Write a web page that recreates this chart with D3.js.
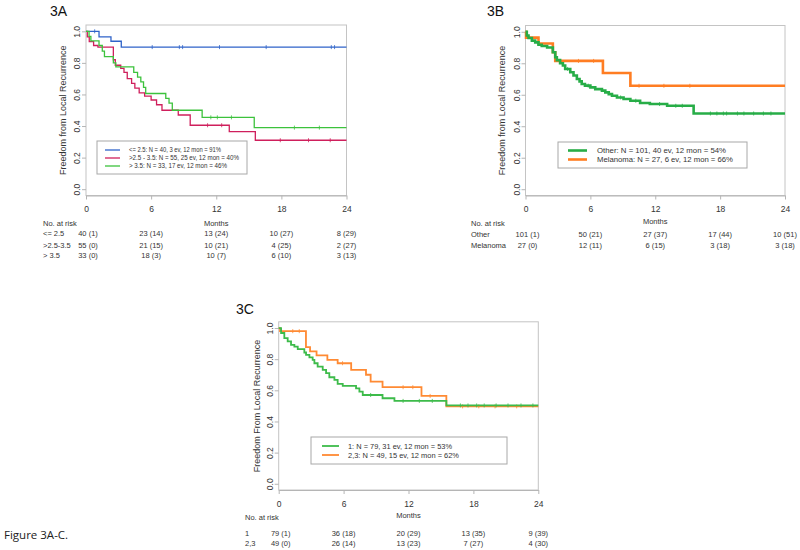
<!DOCTYPE html>
<html>
<head>
<meta charset="utf-8">
<script src="https://cdn.jsdelivr.net/npm/d3@7"></script>
<style>
  body { margin: 0; background: #fff; }
  svg { display: block; }
  text { font-family: "Liberation Sans", Arial, sans-serif; }
  .tick text { font-size: 8.5px; fill: #333; }
  .tick line, .domain { stroke: #b5b5b5; }
</style>
</head>
<body>
<script>
const months = [0, 6, 12, 18, 24]
const survTicks = [0, 0.2, 0.4, 0.6, 0.8, 1.0]

// 3A - steps are [month, survival]
const aLow = [[0, 1], [1.2, 0.965], [2.3, 0.937], [3.25, 0.9]]
const aLowCens = [0.8, 6.1, 8.6, 8.9, 12.3, 16.6, 22.6, 22.9]
const aMid = [[0, 1], [0.12, 0.965], [0.3, 0.935], [0.7, 0.91], [1.1, 0.9], [2.52, 0.82], [2.7, 0.785],
  [3.2, 0.765], [3.5, 0.74], [3.8, 0.7], [4.2, 0.67], [4.5, 0.64], [4.9, 0.61], [5.4, 0.59], [6.0, 0.565],
  [6.5, 0.535], [7.0, 0.5], [8.5, 0.47], [9.6, 0.405], [13.2, 0.365], [15.6, 0.31]]
const aMidCens = [11.2, 12.5, 17.9, 20.5, 22.5]
const aHigh = [[0, 1], [0.28, 0.968], [0.45, 0.94], [1.2, 0.91], [1.5, 0.875], [1.7, 0.84], [2.52, 0.8],
  [2.75, 0.775], [4.4, 0.74], [4.75, 0.71], [5.05, 0.68], [5.3, 0.645], [5.5, 0.606], [7.35, 0.575],
  [7.65, 0.545], [7.95, 0.5], [10.7, 0.455], [15.5, 0.39]]
const aHighCens = [11.5, 12.1, 13.4, 19.2, 21.5]
const aLegend = ['<= 2.5: N = 40, 3 ev, 12 mon = 91%', '>2.5 - 3.5: N = 55, 25 ev, 12 mon = 40%', '> 3.5: N = 33, 17 ev, 12 mon = 46%']
const aRiskLabels = ['<= 2.5', '>2.5-3.5', '> 3.5']
const aRisk = [
  ['40 (1)', '23 (14)', '13 (24)', '10 (27)', '8 (29)'],
  ['55 (0)', '21 (15)', '10 (21)', '4 (25)', '2 (27)'],
  ['33 (0)', '18 (3)', '10 (7)', '6 (10)', '3 (13)']
]

// 3B
const bOther = [[0, 1], [0.12, 0.976], [0.28, 0.961], [0.59, 0.944], [0.9, 0.933], [1.2, 0.918], [1.5, 0.91],
  [2.0, 0.9], [2.53, 0.87], [2.75, 0.838], [2.9, 0.82], [3.2, 0.8], [3.46, 0.786], [3.67, 0.764], [4.14, 0.743],
  [4.44, 0.722], [4.75, 0.7], [5.0, 0.685], [5.2, 0.668], [5.5, 0.658], [6.0, 0.647], [6.45, 0.636],
  [7.07, 0.626], [7.38, 0.615], [7.7, 0.604], [8.0, 0.594], [8.46, 0.583], [9.07, 0.573], [9.7, 0.562],
  [10.6, 0.548], [11.5, 0.541], [13.1, 0.53], [15.55, 0.481]]
const bOtherCens = [3.9, 5.8, 8.8, 10.2, 12.4, 13.9, 14.5, 17.1, 17.7, 18.3, 18.6, 19.6, 20.2, 21.1, 22.0, 22.7]
const bMel = [[0, 1], [0.05, 0.963], [1.2, 0.926], [2.53, 0.87], [2.75, 0.815], [7.16, 0.738], [9.7, 0.657]]
const bMelCens = [4.9, 6.3, 10.5, 12.8, 15.2]
const bLegend = ['Other: N = 101, 40 ev, 12 mon = 54%', 'Melanoma: N = 27, 6 ev, 12 mon = 66%']
const bRiskLabels = ['Other', 'Melanoma']
const bRisk = [
  ['101 (1)', '50 (21)', '27 (37)', '17 (44)', '10 (51)'],
  ['27 (0)', '12 (11)', '6 (15)', '3 (18)', '3 (18)']
]

// 3C
const cOne = [[0, 1], [0.22, 0.968], [0.52, 0.935], [0.83, 0.914], [1.14, 0.892], [1.45, 0.881], [1.76, 0.864],
  [2.37, 0.843], [2.53, 0.827], [2.84, 0.812], [3.14, 0.795], [3.3, 0.774], [3.6, 0.752], [4.07, 0.731],
  [4.38, 0.71], [4.68, 0.684], [5.15, 0.667], [5.45, 0.641], [5.92, 0.628], [7.15, 0.613], [7.46, 0.592],
  [7.77, 0.57], [9.6, 0.549], [10.7, 0.532], [15.5, 0.503]]
const cOneCens = [8.5, 11.5, 13.0, 14.2, 16.8, 17.5, 18.3, 19.0, 20.1, 21.2, 22.4, 23.5]
const cTwo = [[0, 1], [0.12, 0.98], [2.52, 0.877], [2.9, 0.85], [3.5, 0.825], [4.5, 0.795], [5.45, 0.774],
  [6.7, 0.731], [8.07, 0.7], [8.5, 0.656], [9.6, 0.62], [13.2, 0.564], [15.5, 0.497]]
const cTwoCens = [1.3, 1.9, 5.9, 11.5, 12.4, 14.0, 17.0, 18.5, 20.0, 22.0]
const cLegend = ['1: N = 79, 31 ev, 12 mon = 53%', '2,3: N = 49, 15 ev, 12 mon = 62%']
const cRiskLabels = ['1', '2,3']
const cRisk = [
  ['79 (1)', '36 (18)', '20 (29)', '13 (35)', '9 (39)'],
  ['49 (0)', '26 (14)', '13 (23)', '7 (27)', '4 (30)']
]

const svg = d3.select('body').append('svg')
  .attr('width', 800)
  .attr('height', 550)

const panels = [
  {
    title: '3A', titleX: 50, titleY: 16, left: 86, right: 346.5, top: 25, bottom: 195.5, ylabX: 63,
    ylab: 'Freedom from Local Recurrence', lw: 1.3,
    series: [
      { steps: aLow, cens: aLowCens, color: '#2f63c9' },
      { steps: aMid, cens: aMidCens, color: '#cf1f5c' },
      { steps: aHigh, cens: aHighCens, color: '#3cc23c' }
    ],
    legend: aLegend, legBox: [97, 141, 150, 33], legLine: [105, 120], legTextX: 129,
    legRows: [150, 158, 166], legLens: [92, 110, 98], legFont: 7,
    riskLabels: aRiskLabels, risk: aRisk, labelX: 43, headY: 225.7, monthsY: 225.7, rowsY: [236, 247.7, 258.4]
  },
  {
    title: '3B', titleX: 487, titleY: 16, left: 525.5, right: 785, top: 25.5, bottom: 195.5, ylabX: 502,
    ylab: 'Freedom from Local Recurrence', lw: 2.6,
    series: [
      { steps: bMel, cens: bMelCens, color: '#ff7d22' },
      { steps: bOther, cens: bOtherCens, color: '#27ad47' }
    ],
    legend: bLegend, legBox: [558, 142, 189, 26], legLine: [568, 587], legTextX: 597,
    legRows: [150.5, 159.5], legLens: [129, 136], legFont: 8, legColors: ['#27ad47', '#ff7d22'],
    riskLabels: bRiskLabels, risk: bRisk, labelX: 471, headY: 226, monthsY: 223.7, rowsY: [236.7, 247.7]
  },
  {
    title: '3C', titleX: 236, titleY: 314, left: 278.7, right: 538.3, top: 321.8, bottom: 490, ylabX: 257,
    ylab: 'Freedom From Local Recurrence', lw: 1.8,
    series: [
      { steps: cTwo, cens: cTwoCens, color: '#ff8a33' },
      { steps: cOne, cens: cOneCens, color: '#3dbb4a' }
    ],
    legend: cLegend, legBox: [311, 437, 196, 27], legLine: [322, 339], legTextX: 348,
    legRows: [446, 455], legLens: [104, 111], legFont: 7.5, legColors: ['#3dbb4a', '#ff8a33'],
    riskLabels: cRiskLabels, risk: cRisk, labelX: 245, headY: 520, monthsY: 518, rowsY: [535.8, 545.8]
  }
]

function survAt(steps, t) {
  let v = steps[0][1]
  steps.forEach(s => { if (s[0] <= t) v = s[1] })
  return v
}

function drawPanel(p) {
  const x = d3.scaleLinear().domain([0, 24]).range([p.left, p.right])
  const y = d3.scaleLinear().domain([-0.04, 1.04]).range([p.bottom, p.top])

  svg.append('text')
    .attr('x', p.titleX).attr('y', p.titleY)
    .attr('font-size', 14).attr('fill', '#111')
    .text(p.title)

  svg.append('rect')
    .attr('x', p.left).attr('y', p.top)
    .attr('width', p.right - p.left).attr('height', p.bottom - p.top)
    .attr('fill', 'none').attr('stroke', '#c4c4c4')

  const gx = svg.append('g')
    .attr('transform', 'translate(0,' + p.bottom + ')')
    .call(d3.axisBottom(x).tickValues(months).tickSize(4).tickSizeOuter(0))
  gx.selectAll('text').attr('y', 10.5)

  const gy = svg.append('g')
    .attr('transform', 'translate(' + p.left + ',0)')
    .call(d3.axisLeft(y).tickValues(survTicks).tickFormat(d3.format('.1f')).tickSize(4).tickSizeOuter(0))
  gy.select('.domain').remove()
  gy.selectAll('text')
    .attr('transform', 'rotate(-90)')
    .attr('x', 0).attr('y', -6).attr('dy', 0)
    .attr('text-anchor', 'middle')

  const midY = (y(0) + y(1)) / 2
  svg.append('text')
    .attr('transform', 'translate(' + p.ylabX + ',' + midY + ') rotate(-90)')
    .attr('text-anchor', 'middle').attr('dy', '0.35em')
    .attr('font-size', 9).attr('fill', '#333')
    .text(p.ylab)

  const line = d3.line()
    .x(d => x(d[0]))
    .y(d => y(d[1]))
    .curve(d3.curveStepAfter)

  p.series.forEach(s => {
    const pts = s.steps.concat([[24, s.steps[s.steps.length - 1][1]]])
    svg.append('path')
      .attr('d', line(pts))
      .attr('fill', 'none')
      .attr('stroke', s.color)
      .attr('stroke-width', p.lw)
    svg.selectAll(null)
      .data(s.cens)
      .enter()
      .append('line')
      .attr('x1', d => x(d)).attr('x2', d => x(d))
      .attr('y1', d => y(survAt(s.steps, d)) - 2)
      .attr('y2', d => y(survAt(s.steps, d)) + 2)
      .attr('stroke', s.color)
      .attr('stroke-width', 0.8)
  })

  // legend
  const lb = p.legBox
  svg.append('rect')
    .attr('x', lb[0]).attr('y', lb[1]).attr('width', lb[2]).attr('height', lb[3])
    .attr('fill', '#fff').attr('stroke', '#a8a8a8')
  const legColors = p.legColors || p.series.map(s => s.color)
  p.legend.forEach((txt, i) => {
    svg.append('line')
      .attr('x1', p.legLine[0]).attr('x2', p.legLine[1])
      .attr('y1', p.legRows[i]).attr('y2', p.legRows[i])
      .attr('stroke', legColors[i]).attr('stroke-width', p.lw)
    svg.append('text')
      .attr('x', p.legTextX).attr('y', p.legRows[i]).attr('dy', '0.35em')
      .attr('font-size', p.legFont).attr('fill', '#333')
      .attr('textLength', p.legLens[i]).attr('lengthAdjust', 'spacingAndGlyphs')
      .text(txt)
  })

  // number at risk table
  const tbl = svg.append('g').attr('font-size', 7.5).attr('fill', '#333')
  tbl.append('text').attr('x', p.labelX).attr('y', p.headY).text('No. at risk')
  tbl.append('text').attr('x', x(12)).attr('y', p.monthsY).attr('text-anchor', 'middle').text('Months')
  p.riskLabels.forEach((lab, i) => {
    tbl.append('text').attr('x', p.labelX).attr('y', p.rowsY[i]).text(lab)
    tbl.selectAll(null)
      .data(p.risk[i])
      .enter()
      .append('text')
      .attr('x', (d, j) => x(months[j]) + (j === 0 ? 2 : 0))
      .attr('y', p.rowsY[i])
      .attr('text-anchor', 'middle')
      .text(d => d)
  })
}

panels.forEach(drawPanel)

svg.append('text')
  .attr('x', 4).attr('y', 539)
  .style('font-family', '"Open Sans", sans-serif')
  .attr('font-size', 11.5).attr('fill', '#222')
  .text('Figure 3A-C.')
</script>
</body>
</html>
